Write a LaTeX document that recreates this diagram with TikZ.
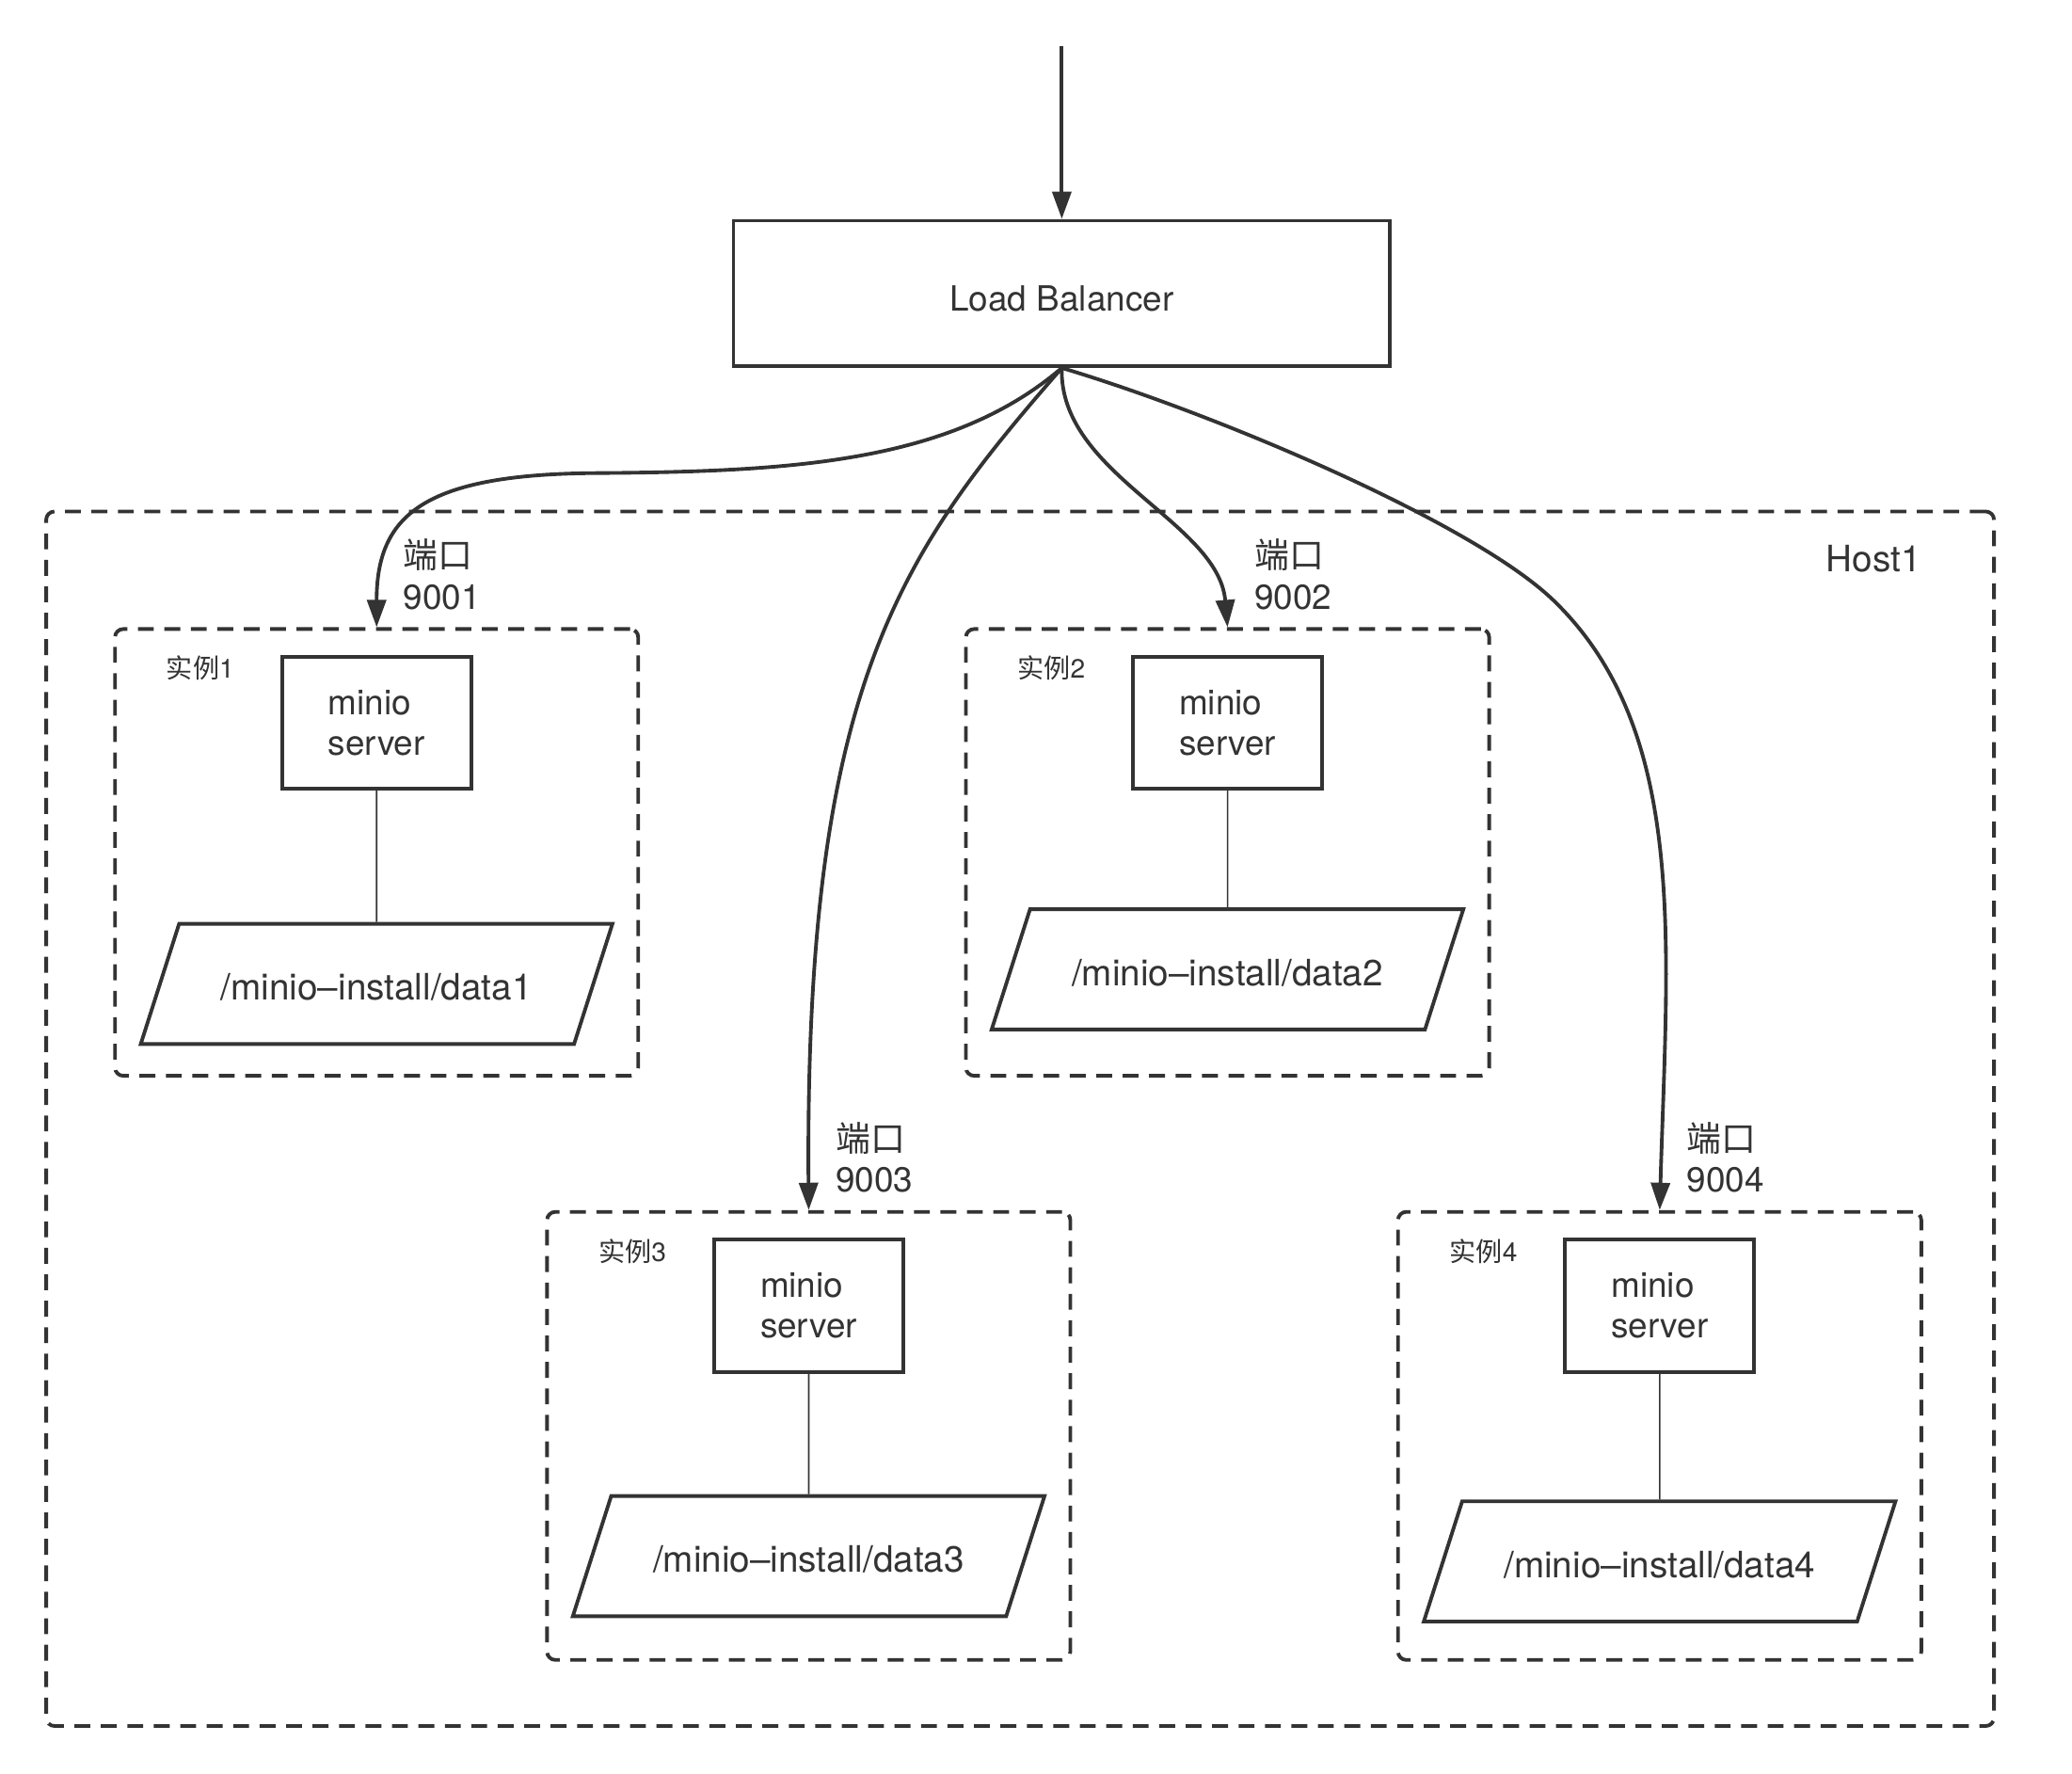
\documentclass[tikz,border=0pt]{standalone}
\usepackage{fontspec}
\setmainfont{TeX Gyre Heros}
\newfontfamily\cjk{Noto Sans CJK SC}
\usepackage{tikz}
\usetikzlibrary{arrows.meta,positioning,shapes.geometric}
\usepackage{xcolor}
\definecolor{ink}{HTML}{333333}

\begin{document}
\begin{tikzpicture}[
    box/.style={draw=ink, line width=1.1pt, minimum width=2.008cm,
                minimum height=1.404cm, inner sep=0, align=left,
                text=ink, font=\fontsize{10.5}{12.3}\selectfont},
    group/.style={draw=ink, line width=1.1pt, dash pattern=on 4.8pt off 3.2pt,
                  rounded corners=2.5pt, inner sep=0},
    disk/.style={trapezium, trapezium left angle=72.3, trapezium right angle=107.7,
                 trapezium stretches body, draw=ink, line width=1.1pt,
                 minimum width=5.013cm, minimum height=1.278cm,
                 text height=0.37cm, text depth=0.03cm, inner xsep=0, inner ysep=0.439cm,
                 text=ink, font=\fontsize{11}{13}\selectfont},
    port/.style={inner sep=0, align=left, text=ink,
                 font=\fontsize{10.5}{12.3}\selectfont},
    tag/.style={inner sep=0, text=ink, font=\fontsize{8}{9}\selectfont},
    arr/.style={-{Triangle[length=0.29cm,width=0.2cm]}, line width=1.1pt, draw=ink},
    link/.style={draw=ink, line width=0.45pt}
]
    \useasboundingbox (0,0) rectangle (22.02,18.84);

    % host and the load balancer
    \node[group, minimum width=20.700cm, minimum height=12.905cm] (host) at (10.841,6.9525) {};
    \node[port, font=\fontsize{11}{13}\selectfont] (hostlbl) at (19.913,12.900) {Host1};
    \node[box, minimum width=6.979cm, minimum height=1.545cm, text height=0.38cm] (lb) at (11.284,15.722) {Load Balancer};
    \coordinate (src) at (11.284,18.349);

    % instances
    \node[group, minimum width=5.561cm, minimum height=4.747cm] (i1) at (4.0025,9.7825) {};
    \node[group, minimum width=5.561cm, minimum height=4.747cm] (i2) at (13.0455,9.7825) {};
    \node[group, minimum width=5.561cm, minimum height=4.761cm] (i3) at (8.5945,3.5825) {};
    \node[group, minimum width=5.561cm, minimum height=4.761cm] (i4) at (17.638,3.5825) {};

    \node[tag, below right=0.3cm and 0.56cm of i1.north west] (t1) {{\cjk 实例}1};
    \node[tag, below right=0.3cm and 0.56cm of i2.north west] (t2) {{\cjk 实例}2};
    \node[tag, below right=0.3cm and 0.56cm of i3.north west] (t3) {{\cjk 实例}3};
    \node[tag, below right=0.3cm and 0.56cm of i4.north west] (t4) {{\cjk 实例}4};

    \node[box, below=0.295cm of i1.north] (s1) {minio\\server};
    \node[box, below=0.295cm of i2.north] (s2) {minio\\server};
    \node[box, below=0.295cm of i3.north] (s3) {minio\\server};
    \node[box, below=0.295cm of i4.north] (s4) {minio\\server};

    \node[disk, below=3.132cm of i1.north] (d1) {/minio--install/data1};
    \node[disk, below=2.977cm of i2.north] (d2) {/minio--install/data2};
    \node[disk, below=3.019cm of i3.north] (d3) {/minio--install/data3};
    \node[disk, below=3.075cm of i4.north] (d4) {/minio--install/data4};

    \draw[link] (s1) -- (d1);
    \draw[link] (s2) -- (d2);
    \draw[link] (s3) -- (d3);
    \draw[link] (s4) -- (d4);

    % port labels
    \node[port, above right=0.18cm and 0.28cm of i1.north] (p1) {{\cjk 端口}\\9001};
    \node[port, above right=0.18cm and 0.28cm of i2.north] (p2) {{\cjk 端口}\\9002};
    \node[port, above right=0.18cm and 0.28cm of i3.north] (p3) {{\cjk 端口}\\9003};
    \node[port, above right=0.18cm and 0.28cm of i4.north] (p4) {{\cjk 端口}\\9004};

    % traffic
    \draw[arr] (src) -- (lb);
    \draw[arr] (lb.south) .. controls (10.111,13.925) and (8.426,13.827) .. (6.319,13.813)
                          .. controls (4.494,13.799) and (4.002,13.363) .. (i1.north);
    \draw[arr] (lb.south) .. controls (11.25,13.8) and (12.95,13.3) .. (i2.north);
    \draw[arr] (lb.south) .. controls (9.549,12.942) and (8.552,11.538) .. (i3.north);
    \draw[arr] (lb.south) .. controls (12.9,14.45) and (15.65,13.29) .. (16.51,12.46)
                          .. controls (17.95,11.07) and (17.72,8.8) .. (i4.north);
\end{tikzpicture}
\end{document}
